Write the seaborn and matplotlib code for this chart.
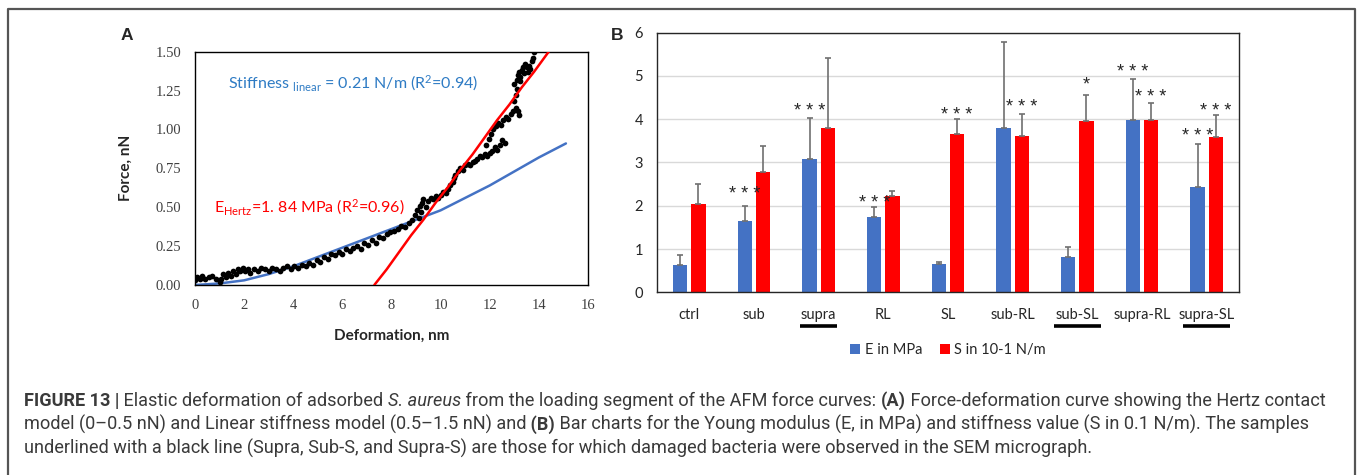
import numpy as np
import pandas as pd
import matplotlib.pyplot as plt
import matplotlib.transforms as mtransforms
from matplotlib.lines import Line2D
import seaborn as sns

sns.set_style('white')
plt.rcParams['font.family'] = ['Lato', 'DejaVu Sans']
plt.rcParams['mathtext.fontset'] = 'custom'
plt.rcParams['mathtext.rm'] = 'Lato'
plt.rcParams['mathtext.it'] = 'Lato:italic'
plt.rcParams['mathtext.bf'] = 'Lato:bold'

# ---- panel A data ----
pts_x = [0.00, 0.10, 0.20, 0.30, 0.40, 0.55, 0.70, 0.85, 1.00, 1.05, 1.15, 1.25, 1.35, 1.45,
         1.55, 1.65, 1.75, 1.85, 1.95, 2.05, 2.15, 2.25, 2.40, 2.55, 2.70, 2.85, 3.00, 3.15,
         3.30, 3.45, 3.60, 3.75, 3.90, 4.05, 4.20, 4.35, 4.50, 4.65, 4.80, 4.95, 5.10, 5.25,
         5.40, 5.55, 5.70, 5.85, 6.00, 6.15, 6.30, 6.45, 6.60, 6.75, 6.90, 7.05, 7.20, 7.35,
         7.50, 7.65, 7.80, 7.95, 8.10, 8.25, 8.40, 8.55, 8.70, 8.85, 8.95, 9.05, 9.10, 9.15,
         9.20, 9.25, 9.30, 9.40, 9.50, 9.60, 9.70, 9.80, 9.90, 10.00, 10.10, 10.20, 10.30,
         10.40, 10.50, 10.55, 10.60, 10.70, 10.80, 10.90, 11.00, 11.10, 11.20, 11.30, 11.40,
         11.50, 11.60, 11.70, 11.80, 11.90, 12.00, 12.10, 12.20, 12.30, 12.40, 12.50, 12.60,
         11.85, 11.95, 12.05, 12.15, 12.25, 12.35, 12.45, 12.55, 12.65, 12.75, 12.85, 12.95,
         13.05, 13.15, 13.20,
         13.00, 13.05, 13.10, 13.00, 13.10, 13.15, 13.20, 13.25, 13.30, 13.40, 13.50, 13.60,
         13.70, 13.75, 13.80, 13.55, 13.45, 13.65, 13.35, 13.25]
pts_y = [0.03, 0.05, 0.04, 0.06, 0.04, 0.05, 0.06, 0.04, 0.02, 0.04, 0.07, 0.05, 0.08, 0.06,
         0.09, 0.07, 0.10, 0.09, 0.11, 0.09, 0.10, 0.08, 0.10, 0.09, 0.11, 0.10, 0.09, 0.11,
         0.10, 0.09, 0.11, 0.12, 0.10, 0.12, 0.11, 0.13, 0.12, 0.14, 0.13, 0.16, 0.15, 0.18,
         0.17, 0.20, 0.19, 0.21, 0.20, 0.23, 0.22, 0.24, 0.25, 0.23, 0.27, 0.26, 0.29, 0.27,
         0.31, 0.30, 0.33, 0.34, 0.35, 0.36, 0.38, 0.37, 0.40, 0.42, 0.45, 0.48, 0.43, 0.51,
         0.47, 0.53, 0.55, 0.50, 0.54, 0.56, 0.55, 0.57, 0.56, 0.58, 0.60, 0.59, 0.62,
         0.64, 0.66, 0.69, 0.71, 0.73, 0.75, 0.74, 0.77, 0.78, 0.77, 0.79, 0.80,
         0.81, 0.83, 0.82, 0.84, 0.83, 0.85, 0.86, 0.89, 0.87, 0.90, 0.93, 0.91,
         0.90, 0.94, 0.97, 1.00, 1.02, 1.04, 1.03, 1.06, 1.08, 1.07, 1.10, 1.12,
         1.14, 1.12, 1.09,
         1.18, 1.22, 1.26, 1.29, 1.32, 1.35, 1.37, 1.34, 1.38, 1.36, 1.40, 1.41,
         1.44, 1.46, 1.50, 1.37, 1.42, 1.39, 1.40, 1.31]

linear_x = [0, 1, 2, 3, 4, 5, 6, 7, 8, 9, 10, 11, 12, 13, 14, 15.1]
linear_y = [0, 0.01, 0.03, 0.07, 0.12, 0.18, 0.24, 0.30, 0.36, 0.42, 0.48, 0.56, 0.64, 0.73, 0.82, 0.91]

hertz_x = [7.3, 7.8, 8.3, 8.8, 9.3, 9.8, 10.3, 10.8, 11.3, 11.8, 12.3, 12.8, 13.3, 13.8, 14.4]
hertz_y = [0.0, 0.10, 0.21, 0.32, 0.42, 0.53, 0.63, 0.74, 0.84, 0.95, 1.06, 1.16, 1.27, 1.37, 1.50]

# ---- panel B data ----
groups = ['ctrl', 'sub', 'supra', 'RL', 'SL', 'sub-RL', 'sub-SL', 'supra-RL', 'supra-SL']
E_vals = [0.62, 1.64, 3.07, 1.75, 0.65, 3.79, 0.82, 3.99, 2.43]
E_top = [0.86, 2.00, 4.02, 1.97, 0.71, 5.79, 1.04, 4.93, 3.43]
S_vals = [2.05, 2.78, 3.79, 2.23, 3.65, 3.61, 3.95, 3.98, 3.60]
S_top = [2.51, 3.39, 5.42, 2.33, 4.01, 4.12, 4.56, 4.38, 4.10]
series = ['E in MPa', 'S in 10-1 N/m']
# (group, series index, label, y)
stars = [('sub', 0, '* * *', 2.34), ('supra', 0, '* * *', 4.25), ('RL', 0, '* * *', 2.13),
         ('SL', 1, '* * *', 4.16), ('sub-RL', 1, '* * *', 4.33), ('sub-SL', 1, '*', 4.87),
         ('supra-RL', 0, '* * *', 5.16), ('supra-RL', 1, '* * *', 4.58),
         ('supra-SL', 0, '* * *', 3.67), ('supra-SL', 1, '* * *', 4.25)]
underlined = [('supra', 0.29), ('sub-SL', 0.36), ('supra-SL', 0.36)]

fig = plt.figure(figsize=(13.58, 4.75), dpi=100)
ax_a = fig.add_axes([0.1436, 0.4, 0.2894, 0.4912])
ax_b = fig.add_axes([0.4838, 0.3846, 0.4286, 0.5466])

# ---- panel A ----
sns.lineplot(x=linear_x, y=linear_y, ax=ax_a, color='#4472C4', lw=1.8, sort=False,
             estimator=None, zorder=2)
sns.scatterplot(x=pts_x, y=pts_y, ax=ax_a, color='black', s=17, linewidth=0, zorder=3)
sns.lineplot(x=hertz_x, y=hertz_y, ax=ax_a, color='#FF0000', lw=1.8, sort=False,
             estimator=None, zorder=4)
ax_a.set_xlim(0, 16)
ax_a.set_ylim(0, 1.5)
xt = list(range(0, 17, 2))
yt = [0, 0.25, 0.5, 0.75, 1.0, 1.25, 1.5]
ax_a.set_xticks(xt)
ax_a.set_xticklabels([str(v) for v in xt], fontfamily='Liberation Serif', fontsize=10.5,
                     color='#404040')
ax_a.set_yticks(yt)
ax_a.set_yticklabels([f'{v:.2f}' for v in yt], fontfamily='Liberation Serif', fontsize=10.5,
                     color='#404040')
ax_a.tick_params(length=0, pad=10)
for s in ax_a.spines.values():
    s.set_visible(True)
    s.set_color('black')
    s.set_linewidth(1.0)
ax_a.set_xlabel('Deformation, nm', fontweight='bold', fontsize=11, color='#262626', labelpad=12)
ax_a.set_ylabel('Force, nN', fontweight='bold', fontsize=11, color='#262626', labelpad=16)
ax_a.text(1.34, 1.30, r'Stiffness $_{\mathrm{linear}}$ = 0.21 N/m (R$^{2}$=0.94)',
          color='#2E7BC4', fontsize=11.5, va='center')
ax_a.text(0.77, 0.50, r'E$_{\mathrm{Hertz}}$=1. 84 MPa (R$^{2}$=0.96)',
          color='#FF0000', fontsize=11.5, va='center')

# ---- panel B ----
df = pd.DataFrame({'group': groups * 2,
                   'series': [series[0]] * len(groups) + [series[1]] * len(groups),
                   'value': E_vals + S_vals})
sns.barplot(data=df, x='group', y='value', hue='series', order=groups, hue_order=series,
            palette=['#4472C4', '#FF0000'], saturation=1, width=0.56, gap=0.21,
            errorbar=None, linewidth=0, ax=ax_b, zorder=2)

centers = []
for cont, tops in zip(ax_b.containers, [E_top, S_top]):
    xs = [p.get_x() + p.get_width() / 2 for p in cont]
    hs = np.array([p.get_height() for p in cont])
    centers.append(xs)
    ax_b.errorbar(xs, hs, yerr=[np.zeros(len(hs)), np.array(tops) - hs], fmt='none',
                  ecolor='#707070', elinewidth=1.2, capsize=2.5, capthick=1.2, zorder=3)

# asterisks sit high in their glyph box, nudge them down a few pixels
star_trans = mtransforms.offset_copy(ax_b.transData, fig=fig, x=0, y=-3, units='dots')
for g, k, lab, y in stars:
    ax_b.text(centers[k][groups.index(g)], y, lab, ha='center', va='center',
              fontsize=13, fontfamily='Liberation Sans', color='#262626',
              transform=star_trans)

ax_b.set_ylim(0, 6)
ax_b.set_xlim(-0.5, len(groups) - 0.5)
ax_b.set_yticks(range(0, 7))
ax_b.yaxis.grid(True, color='#d9d9d9', lw=1)
ax_b.set_axisbelow(True)
ax_b.tick_params(length=0, labelsize=10.5, labelcolor='#262626')
ax_b.tick_params(axis='x', pad=11)
ax_b.tick_params(axis='y', pad=10)
ax_b.set_xlabel('')
ax_b.set_ylabel('')
for s in ax_b.spines.values():
    s.set_visible(True)
    s.set_color('#262626')
    s.set_linewidth(1.0)

ax_b.legend(loc='center', bbox_to_anchor=(0.5, -0.222), ncol=2, frameon=False,
            handlelength=0.7, handleheight=0.7, handletextpad=0.3, columnspacing=1.2,
            fontsize=10.5)

trans = mtransforms.blended_transform_factory(ax_b.transData, ax_b.transAxes)
for g, hw in underlined:
    i = groups.index(g)
    ax_b.plot([i - hw, i + hw], [-0.128, -0.128], transform=trans, color='black', lw=2.6,
              clip_on=False, solid_capstyle='butt')

# panel letters
fig.text(127 / 1358, 1 - 35 / 475, 'A', fontweight='bold', fontsize=12.5,
         fontfamily='Liberation Sans', ha='center', va='center')
fig.text(617 / 1358, 1 - 35 / 475, 'B', fontweight='bold', fontsize=12.5,
         fontfamily='Liberation Sans', ha='center', va='center')

# outer frame
fig.add_artist(Line2D([8 / 1358, 8 / 1358, 1355 / 1358, 1355 / 1358],
                      [0, 1 - 8.7 / 475, 1 - 8.7 / 475, 0],
                      transform=fig.transFigure, color='#555555', lw=1.6))

# caption
cap_ax = fig.add_axes([0, 0, 1, 1])
cap_ax.axis('off')
cap_ax.patch.set_alpha(0)
cap_font = 'Roboto'
cap_size = 13.1
cap_color = '#3a3a3a'
lines = [
    [('FIGURE 13 |', 'bold', 'normal'),
     (' Elastic deformation of adsorbed ', 'normal', 'normal'),
     ('S. aureus', 'normal', 'italic'),
     (' from the loading segment of the AFM force curves: ', 'normal', 'normal'),
     ('(A)', 'bold', 'normal'),
     (' Force-deformation curve showing the Hertz contact', 'normal', 'normal')],
    [('model (0\u20130.5 nN) and Linear stiffness model (0.5\u20131.5 nN) and', 'normal', 'normal'),
     (' (B)', 'bold', 'normal'),
     (' Bar charts for the Young modulus (E, in MPa) and stiffness value (S in 0.1 N/m). The samples',
      'normal', 'normal')],
    [('underlined with a black line (Supra, Sub-S, and Supra-S) are those for which damaged '
      'bacteria were observed in the SEM micrograph.', 'normal', 'normal')],
]
line_y = [0.137, 0.0865, 0.036]
for parts, y in zip(lines, line_y):
    txt, w, st = parts[0]
    t = cap_ax.text(24 / 1358, y, txt, fontweight=w, fontstyle=st, fontsize=cap_size,
                    fontfamily=cap_font, color=cap_color, va='bottom', ha='left',
                    transform=fig.transFigure)
    for txt, w, st in parts[1:]:
        t = cap_ax.annotate(txt, xy=(1, 0), xycoords=t, va='bottom', ha='left',
                            fontweight=w, fontstyle=st, fontsize=cap_size,
                            fontfamily=cap_font, color=cap_color)

fig.savefig('out.png', dpi=100)
